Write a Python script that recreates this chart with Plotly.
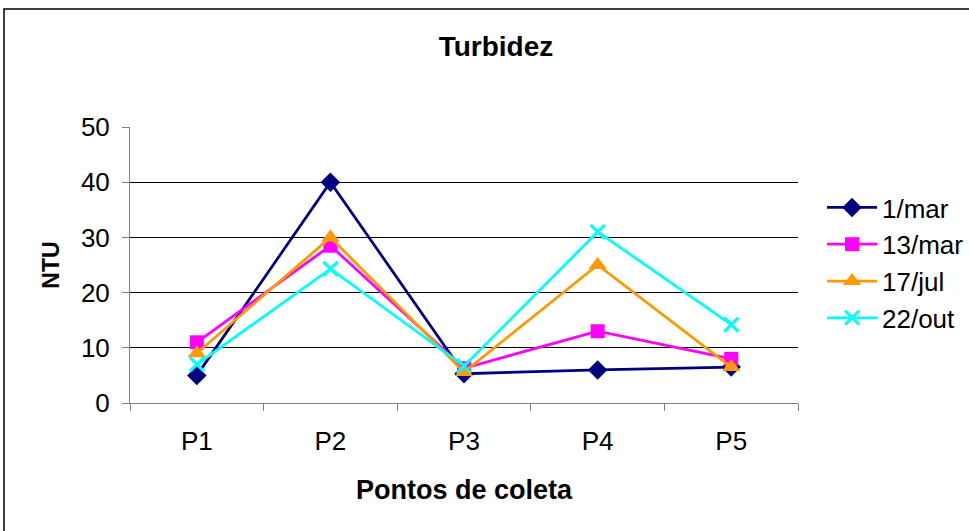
import plotly.graph_objects as go

categories = ["P1", "P2", "P3", "P4", "P5"]
s_1mar = [5.0, 40.0, 5.3, 6.0, 6.5]
s_13mar = [11.0, 28.5, 6.3, 13.0, 8.0]
s_17jul = [9.0, 30.0, 5.6, 25.0, 6.5]
s_22out = [7.0, 24.3, 6.7, 31.0, 14.2]
series_names = ["1/mar", "13/mar", "17/jul", "22/out"]
y_ticks = [0, 10, 20, 30, 40, 50]

FONT = "Liberation Sans, Arial, sans-serif"

fig = go.Figure()
styles = [
    ("#000080", dict(symbol="diamond", size=15)),
    ("#FF00FF", dict(symbol="square", size=14)),
    ("#FF9900", dict(symbol="triangle-up", size=16)),
    ("#00FFFF", dict(symbol="x-thin", size=14, line=dict(width=3, color="#00FFFF"))),
]
for name, vals, (col, mk) in zip(series_names, [s_1mar, s_13mar, s_17jul, s_22out], styles):
    fig.add_trace(go.Scatter(
        x=categories, y=vals, name=name, mode="lines+markers",
        line=dict(color=col, width=2.75),
        marker=dict(color=col, **mk),
    ))

fig.update_layout(
    width=969, height=531,
    margin=dict(l=130, r=171, t=127, b=128, autoexpand=False),
    paper_bgcolor="white", plot_bgcolor="white",
    font=dict(family=FONT, size=26, color="black"),
    title=dict(text="<b>Turbidez</b>", x=496/969, xanchor="center",
               y=1-46/531, yanchor="middle", font=dict(size=28)),
    legend=dict(x=(822-130)/668, y=(403-184)/276, xanchor="left", yanchor="top",
                font=dict(size=26), tracegroupgap=0, itemwidth=50,
                bgcolor="rgba(0,0,0,0)"),
    showlegend=True,
)
fig.update_xaxes(
    type="category", range=[-0.5, 4.5],
    showline=True, linecolor="#808080", linewidth=1,
    ticks="outside", tickson="boundaries", ticklen=7, tickcolor="#808080",
    showgrid=False,
    title=dict(text="<b>Pontos de coleta</b>", font=dict(size=27), standoff=24),
    tickfont=dict(size=26), ticklabelstandoff=15,
)
fig.update_yaxes(
    range=[0, 50], tickvals=y_ticks,
    showline=True, linecolor="#808080", linewidth=1,
    ticks="outside", ticklen=7, tickcolor="#808080",
    showgrid=True, gridcolor="black", gridwidth=1,
    zeroline=False,
    title=dict(text="<b>NTU</b>", font=dict(size=23), standoff=14),
    tickfont=dict(size=26), ticklabelstandoff=7,
)
# outer chart border
fig.add_shape(type="rect", xref="paper", yref="paper",
              x0=(4-130)/668, x1=(990-130)/668,
              y0=(403-560)/276, y1=(403-9)/276,
              line=dict(color="black", width=1.5), fillcolor="rgba(0,0,0,0)",
              layer="below")

fig.write_html("out.html", config={"displayModeBar": False},
               post_script="document.body.style.margin='0';")
